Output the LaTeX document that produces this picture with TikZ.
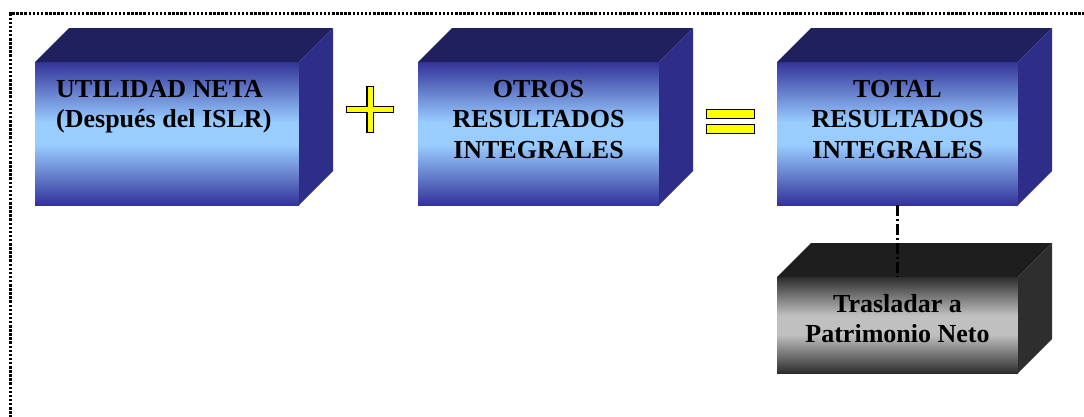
\documentclass[tikz,border=0pt]{standalone}
\usepackage{fontspec}
\setmainfont{Liberation Serif}
\definecolor{dblue}{RGB}{51,51,153}
\definecolor{lblue}{RGB}{153,204,255}
\definecolor{topblue}{RGB}{32,32,94}
\definecolor{sideblue}{RGB}{46,46,138}
\definecolor{dgray}{RGB}{45,45,45}
\definecolor{lgray}{RGB}{192,192,192}
\definecolor{topgray}{RGB}{30,30,30}
\definecolor{sidegray}{RGB}{46,46,46}
\definecolor{signyellow}{RGB}{255,255,0}
\pgfdeclareverticalshading{bluefront}{100bp}{color(0bp)=(dblue); color(25bp)=(dblue); color(46bp)=(lblue); color(54bp)=(lblue); color(75bp)=(dblue); color(100bp)=(dblue)}
\pgfdeclareverticalshading{grayfront}{100bp}{color(0bp)=(dgray); color(25bp)=(dgray); color(45bp)=(lgray); color(55bp)=(lgray); color(75bp)=(dgray); color(100bp)=(dgray)}
\newcommand\cubefaces[3]{%
  \fill[#2] (#1.north west) -- ([shift={(34,-34)}]#1.north west) -- ([shift={(34,-34)}]#1.north east) -- (#1.north east) -- cycle;
  \fill[#3] (#1.north east) -- ([shift={(34,-34)}]#1.north east) -- ([shift={(34,-34)}]#1.south east) -- (#1.south east) -- cycle;}
\begin{document}
\begin{tikzpicture}[x=1pt,y=-1pt,
  bluebox/.style={draw=none, inner sep=0pt, outer sep=0pt, shading=bluefront, shade, minimum height=143pt},
  graybox/.style={draw=none, inner sep=0pt, outer sep=0pt, shading=grayfront, shade, minimum height=96pt, minimum width=241pt},
  lbl/.style={inner sep=0pt, font=\fontsize{26}{30}\selectfont\bfseries, text=black},
  sign/.style={fill=signyellow, draw=black, line width=1.3pt, line join=miter},
  border/.style={line width=2.3pt, dash pattern=on 2.5pt off 1.6pt},
  link/.style={line width=2.6pt, dash pattern=on 11pt off 3pt on 2pt off 3pt}]
\useasboundingbox (0,0) rectangle (1084,416);
\clip (0,0) rectangle (1084,416);
\draw[border] (10.5,430) -- (10.5,13.5) -- (1100,13.5);
% boxes
\node[bluebox, minimum width=264pt] (b1) at (167,133.5) {};
\cubefaces{b1}{topblue}{sideblue}
\node[bluebox, minimum width=241pt] (b2) at (538.5,133.5) {};
\cubefaces{b2}{topblue}{sideblue}
\node[bluebox, minimum width=241pt] (b3) at (897.5,133.5) {};
\cubefaces{b3}{topblue}{sideblue}
\node[graybox] (b4) at (897.5,325) {};
\cubefaces{b4}{topgray}{sidegray}
% texts
\node[lbl, anchor=north west, align=left] (t1) at (56,80.5) {UTILIDAD NETA\\(Después del ISLR)};
\node[lbl, anchor=north, align=center, font=\fontsize{26}{30.5}\selectfont\bfseries] (t2) at (538.5,80) {OTROS\\RESULTADOS\\INTEGRALES};
\node[lbl, anchor=north, align=center, font=\fontsize{26}{30.5}\selectfont\bfseries] (t3) at (897.5,80) {TOTAL\\RESULTADOS\\INTEGRALES};
\node[lbl, anchor=north, align=center] (t4) at (897.5,294.5) {Trasladar a\\Patrimonio Neto};
% plus
\draw[sign] (367,86.5) -- (373.5,86.5) -- (373.5,106.5) -- (393.5,106.5) -- (393.5,112.5) -- (373.5,112.5) -- (373.5,132.5) -- (367,132.5) -- (367,112.5) -- (346.5,112.5) -- (346.5,106.5) -- (367,106.5) -- cycle;
% equals
\draw[sign] (706.5,109.5) rectangle (754.5,118.5);
\draw[sign] (706.5,124.5) rectangle (754.5,133.5);
% connector
\draw[link] (b3.south) -- (b4.north);
\end{tikzpicture}
\end{document}
